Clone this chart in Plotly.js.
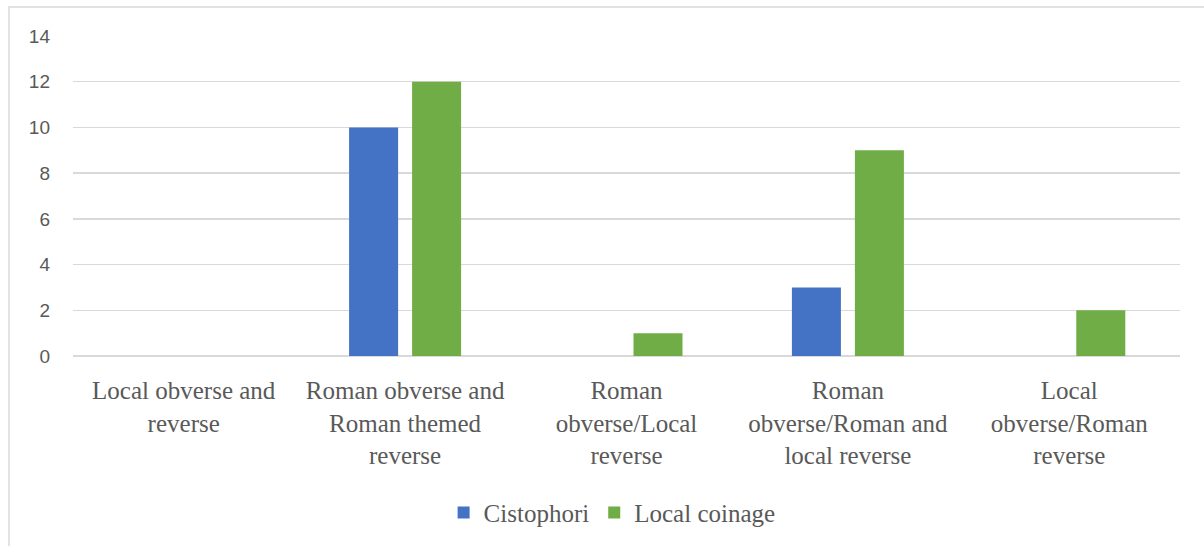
<!DOCTYPE html>
<html>
<head>
<meta charset="utf-8">
<script src="https://cdn.plot.ly/plotly-3.0.1.min.js"></script>
<style>
html,body{margin:0;padding:0;background:#fff;}
#chart{width:1204px;height:546px;}
</style>
</head>
<body>
<div id="chart"></div>
<script>
const categories = [
  "Local obverse and<br>reverse",
  "Roman obverse and<br>Roman themed<br>reverse",
  "Roman<br>obverse/Local<br>reverse",
  "Roman<br>obverse/Roman and<br>local reverse",
  "Local<br>obverse/Roman<br>reverse"
];
const cistophori = [0, 10, 0, 3, 0];
const localCoinage = [0, 12, 1, 9, 2];
const yTicks = [0, 2, 4, 6, 8, 10, 12, 14];

const traces = [
  {type: 'bar', name: 'Cistophori', x: categories, y: cistophori,
   marker: {color: '#4472C4', line: {width: 0}}, hoverinfo: 'none'},
  {type: 'bar', name: 'Local coinage', x: categories, y: localCoinage,
   marker: {color: '#70AD47', line: {width: 0}}, hoverinfo: 'none'}
];

const serif = 'Liberation Serif';

const layout = {
  width: 1204, height: 546,
  margin: {l: 73, r: 24, t: 36, b: 189},
  paper_bgcolor: '#ffffff', plot_bgcolor: '#ffffff',
  font: {family: serif, color: '#595959'},
  barmode: 'group', bargap: 0.431, bargroupgap: 0.222,
  showlegend: true,
  legend: {orientation: 'h', x: 0.487, xanchor: 'center', y: -0.485, yanchor: 'middle',
           font: {family: serif, size: 25, color: '#595959'},
           itemwidth: 30, tracegroupgap: 0},
  xaxis: {
    type: 'category', showgrid: false, zeroline: false, showline: false,
    ticks: '', tickfont: {family: serif, size: 25, color: '#595959'},
    ticklabelstandoff: 17, fixedrange: true
  },
  yaxis: {
    range: [0, 14], tickvals: yTicks, ticktext: yTicks.map(String),
    showgrid: true, gridcolor: '#d9d9d9', gridwidth: 1.3,
    zeroline: true, zerolinecolor: '#d9d9d9', zerolinewidth: 1.3,
    showline: false, ticks: '',
    tickfont: {family: 'Liberation Sans', size: 19, color: '#595959'},
    ticklabelstandoff: 22, fixedrange: true
  },
  shapes: [{
    type: 'rect', xref: 'paper', yref: 'paper',
    x0: -0.0578, x1: 1.2, y0: -1, y1: 1.0903,
    line: {color: '#d9d9d9', width: 1.5}, fillcolor: 'rgba(0,0,0,0)', layer: 'below'
  }]
};

Plotly.newPlot('chart', traces, layout, {displayModeBar: false, staticPlot: true}).then(function (gd) {
  gd.querySelectorAll('.xtick text, .xtick tspan, .legendtext').forEach(function (el) {
    el.style.setProperty('font-family', "'Liberation Serif', 'Times New Roman', serif", 'important');
    el.setAttribute('font-family', 'Liberation Serif');
  });
});
</script>
</body>
</html>
